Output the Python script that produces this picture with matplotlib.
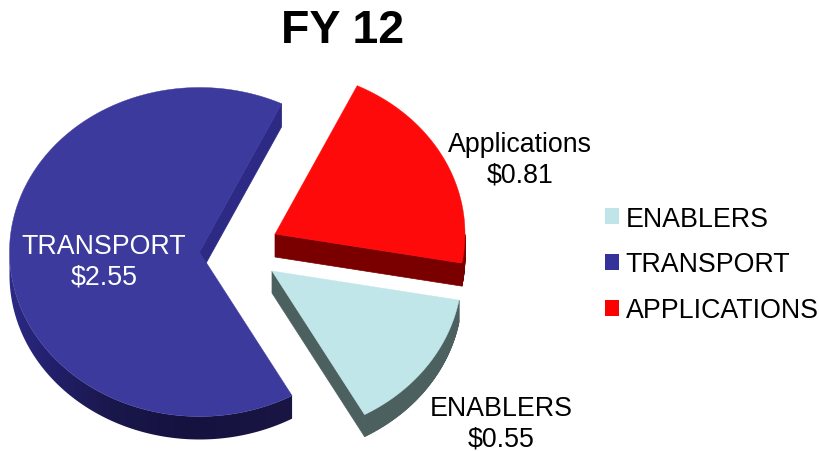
import numpy as np
import matplotlib
matplotlib.use("Agg")
import matplotlib.pyplot as plt
from matplotlib.patches import Polygon, Patch
from matplotlib.colors import to_rgb

plt.rcParams['font.family'] = ['Liberation Sans', 'DejaVu Sans']

# data (pie order, counter-clockwise from the start angle)
categories = ["APPLICATIONS", "TRANSPORT", "ENABLERS"]
slice_names = ["Applications", "TRANSPORT", "ENABLERS"]
values = [0.81, 2.55, 0.55]
legend_order = ["ENABLERS", "TRANSPORT", "APPLICATIONS"]
title = "FY 12"

# styles and layout (pixels)
START = -10.2
RX, RY = 190, 164.5
DEPTH = {"APPLICATIONS": 23, "TRANSPORT": 23, "ENABLERS": 22}
CENTER = {"APPLICATIONS": (275, 235), "TRANSPORT": (199.5, 253), "ENABLERS": (272, 272)}
TOP = {"APPLICATIONS": "#ff0a0a", "TRANSPORT": "#3d3a9e", "ENABLERS": "#c0e6ea"}
SWATCH = {"APPLICATIONS": "#ff0000", "TRANSPORT": "#333399", "ENABLERS": "#bfe5e8"}
SIDE = {"APPLICATIONS": "#7a0000", "TRANSPORT": "#2c2a85", "ENABLERS": "#4d6060"}
LABEL_POS = {"APPLICATIONS": (520, 160.5), "TRANSPORT": (104, 262.5), "ENABLERS": (501, 424.5)}
LABEL_COL = {"APPLICATIONS": "black", "TRANSPORT": "white", "ENABLERS": "black"}
FS = 19.3
RIM_STOPS = [(8, "#2c2a85"), (60, "#211e66"), (110, "#1a174c"), (190, "#15123f"), (291, "#191644")]

fig = plt.figure(figsize=(8.19, 4.52), dpi=100)
ax = fig.add_axes([0, 0, 1, 1])

total = sum(values)
angle = START
for cat, name, val in zip(categories, slice_names, values):
    sweep = val / total * 360
    th = np.radians(np.linspace(angle, angle + sweep, 200))
    angle += sweep
    cx, cy = CENTER[cat]
    xs = np.r_[cx, cx + RX * np.cos(th)]
    ys = np.r_[cy, cy - RY * np.sin(th)]
    d = DEPTH[cat]
    n = len(xs)
    if cat == "TRANSPORT":
        # straight wall in one flat colour
        wall = [(xs[0], ys[0]), (xs[1], ys[1]), (xs[1], ys[1] + d), (xs[0], ys[0] + d)]
        ax.add_patch(Polygon(wall, closed=True, facecolor=SIDE[cat], edgecolor=SIDE[cat], lw=0.5, zorder=2))
        # front rim with a smooth gradient, clipped to the rim outline
        front = np.where(np.diff(xs[1:]) > 0)[0] + 1
        fx = xs[front[0]:]
        fy = ys[front[0]:]
        outline = np.r_[np.c_[fx, fy], np.c_[fx[::-1], fy[::-1] + d]]
        gx = np.arange(0, 300)
        stops_x = [s[0] for s in RIM_STOPS]
        rgb = np.array([to_rgb(s[1]) for s in RIM_STOPS])
        grad = np.stack([np.interp(gx, stops_x, rgb[:, k]) for k in range(3)], axis=-1)[None, :, :]
        im = ax.imshow(grad, extent=(0, 300, 452, 0), aspect="auto", zorder=2, interpolation="bilinear")
        clip = Polygon(outline, closed=True, transform=ax.transData)
        im.set_clip_path(clip)
    else:
        for i in range(n):
            j = (i + 1) % n
            if xs[j] - xs[i] <= 0:
                continue
            q = [(xs[i], ys[i]), (xs[j], ys[j]), (xs[j], ys[j] + d), (xs[i], ys[i] + d)]
            ax.add_patch(Polygon(q, closed=True, facecolor=SIDE[cat], edgecolor=SIDE[cat], lw=0.5, zorder=2))
    ax.add_patch(Polygon(np.c_[xs, ys], closed=True, facecolor=TOP[cat], edgecolor=TOP[cat], lw=0.3, zorder=3))
    lx, ly = LABEL_POS[cat]
    ax.text(lx, ly, f"{name}\n${val:.2f}", ha="center", va="center", fontsize=FS,
            color=LABEL_COL[cat], linespacing=1.2, zorder=5)

ax.set_xlim(0, 819)
ax.set_ylim(452, 0)
ax.axis("off")

ax.text(342.5, 31, title, ha="center", va="center", fontsize=33.5, fontweight="bold", color="black")

handles = [Patch(facecolor=SWATCH[c], edgecolor="none", label=c) for c in legend_order]
ax.legend(handles=handles, loc="center left", bbox_to_anchor=(605 / 819, 1 - 265.5 / 452),
          frameon=False, fontsize=FS, handlelength=0.53, handleheight=0.53, handletextpad=0.24,
          labelspacing=0.74, borderpad=0, borderaxespad=0)

fig.savefig("out.png", dpi=100)
